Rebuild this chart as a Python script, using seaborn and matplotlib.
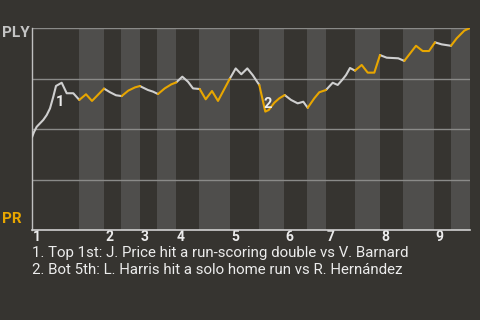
import numpy as np
import pandas as pd
import matplotlib
matplotlib.use("Agg")
import matplotlib.pyplot as plt
import seaborn as sns
from matplotlib.transforms import offset_copy

# ---- data ----
# game progress position (0 = first pitch, 438 = final out) and win probability of PLY (%)
progress = [0, 2, 4.7, 8, 11.3, 14.7, 18, 21.3, 24, 29.7, 34.7, 41.3, 47.3, 54, 60,
            72, 78, 84, 89.7, 96.3, 103, 108, 109.3, 116, 121, 126, 132.7, 139.3,
            144.3, 150.3, 156, 161, 167.7, 173.7, 180, 186, 197.7, 203.7, 209.3,
            215.3, 220.7, 227.3, 233.3, 236.7, 242.3, 247.3, 252.7, 259, 265.7,
            271.3, 275.7, 282.3, 287.3, 294, 300.7, 305.7, 310.7, 314, 318, 323,
            329.7, 335.7, 342.3, 348, 354.7, 366.3, 372.3, 384, 390.7, 397, 403,
            409.7, 419, 424.7, 432.3, 438]
win_prob = [45.9, 48.5, 51.1, 52.8, 54.5, 56.9, 60.2, 66.0, 71.3, 72.9, 67.7, 67.7,
            64.4, 67.2, 63.9, 70.0, 68.2, 66.7, 66.3, 69.0, 70.6, 71.3, 70.9, 69.3,
            68.5, 67.3, 70.1, 72.1, 73.1, 75.9, 73.4, 70.1, 69.8, 64.7, 68.8, 63.9,
            74.8, 80.0, 77.1, 80.0, 76.7, 71.8, 58.6, 59.4, 63.0, 65.2, 66.8, 64.4,
            62.7, 63.5, 60.5, 65.2, 68.2, 69.3, 72.9, 71.8, 74.6, 76.7, 80.2, 78.9,
            81.7, 77.9, 77.9, 86.6, 85.3, 85.0, 83.7, 91.2, 88.6, 88.6, 92.9, 91.9,
            91.2, 94.9, 98.7, 100.0]
# half-inning boundaries (top 1st, bot 1st, top 2nd, ... , end)
half_bounds = [0, 47, 72, 89, 108, 125, 144, 167, 198, 227, 252, 275, 294, 323,
               348, 371, 402, 419, 438]
inning_labels = ["1", "2", "3", "4", "5", "6", "7", "8", "9"]
teams = ["PLY", "PR"]
events = [
    (28, 63.4, "1", "1. Top 1st: J. Price hit a run-scoring double vs V. Barnard"),
    (236, 62.4, "2", "2. Bot 5th: L. Harris hit a solo home run vs R. Hernández"),
]

BG = "#363430"
BAND = "#4f4e4c"
GRID = "#8a8a88"
GRAY = "#cfcfcf"
YELLOW = "#e8a600"
TEXT = "#ececec"

sns.set_theme(style="dark")
plt.rcParams["font.family"] = ["Roboto", "DejaVu Sans"]

fig = plt.figure(figsize=(4.8, 3.2), dpi=100, facecolor=BG)
ax = fig.add_axes([32 / 480, 1 - 230 / 320, 438 / 480, 202 / 320])
ax.set_facecolor(BG)

# bands for bottom halves
for i in range(1, len(half_bounds) - 1, 2):
    ax.axvspan(half_bounds[i], half_bounds[i + 1], color=BAND, lw=0, zorder=0)

# grid lines
for g in [25, 50, 75, 100]:
    ax.axhline(g, color=GRID, lw=1.0, zorder=1)

# build colored runs
def half_of(x):
    return int(np.searchsorted(half_bounds, x, side="right") - 1)

rows = []
run = 0
prev_col = None
for i in range(len(progress) - 1):
    mid = (progress[i] + progress[i + 1]) / 2
    col = teams[half_of(mid) % 2]
    if col != prev_col:
        run += 1
        rows.append((progress[i], win_prob[i], run, col))
        prev_col = col
    rows.append((progress[i + 1], win_prob[i + 1], run, col))
df = pd.DataFrame(rows, columns=["progress", "wp", "run", "team"])

sns.lineplot(data=df, x="progress", y="wp", hue="team", units="run",
             estimator=None, palette={"PLY": GRAY, "PR": YELLOW}, lw=1.5,
             legend=False, ax=ax, zorder=3, sort=False)

for x, y, mark, _ in events:
    ax.text(x, y, mark, color=TEXT, fontsize=10.5, fontweight="bold",
            ha="center", va="center", zorder=4)

ax.set_xlim(0, 438)
ax.set_ylim(0, 100)
ax.set_xlabel("")
ax.set_ylabel("")
ax.set_yticks([])
ax.set_xticks(half_bounds[0:-1:2])
ax.set_xticklabels(inning_labels, color=TEXT, fontsize=10, fontweight="bold", ha="left")
ax.tick_params(axis="x", length=0, pad=0)
for lab in ax.get_xticklabels():
    lab.set_transform(offset_copy(lab.get_transform(), fig=fig, x=1, y=0, units="dots"))

for s in ["top", "right"]:
    ax.spines[s].set_visible(False)
ax.spines["left"].set_color("#c0c0c0")
ax.spines["left"].set_linewidth(1.0)
ax.spines["bottom"].set_color("#d0d0d0")
ax.spines["bottom"].set_linewidth(1.2)

fig.text(2 / 480, 1 - 33 / 320, teams[0], color="#c4c4c4", fontsize=11,
         fontweight="bold", ha="left", va="center")
fig.text(2 / 480, 1 - 219 / 320, teams[1], color=YELLOW, fontsize=11,
         fontweight="bold", ha="left", va="center")

for k, (_, _, _, txt) in enumerate(events):
    fig.text(32 / 480, 1 - (253 + 17 * k) / 320, txt, color=TEXT, fontsize=10.8,
             ha="left", va="center")

fig.savefig("out.png", dpi=100, facecolor=BG)
